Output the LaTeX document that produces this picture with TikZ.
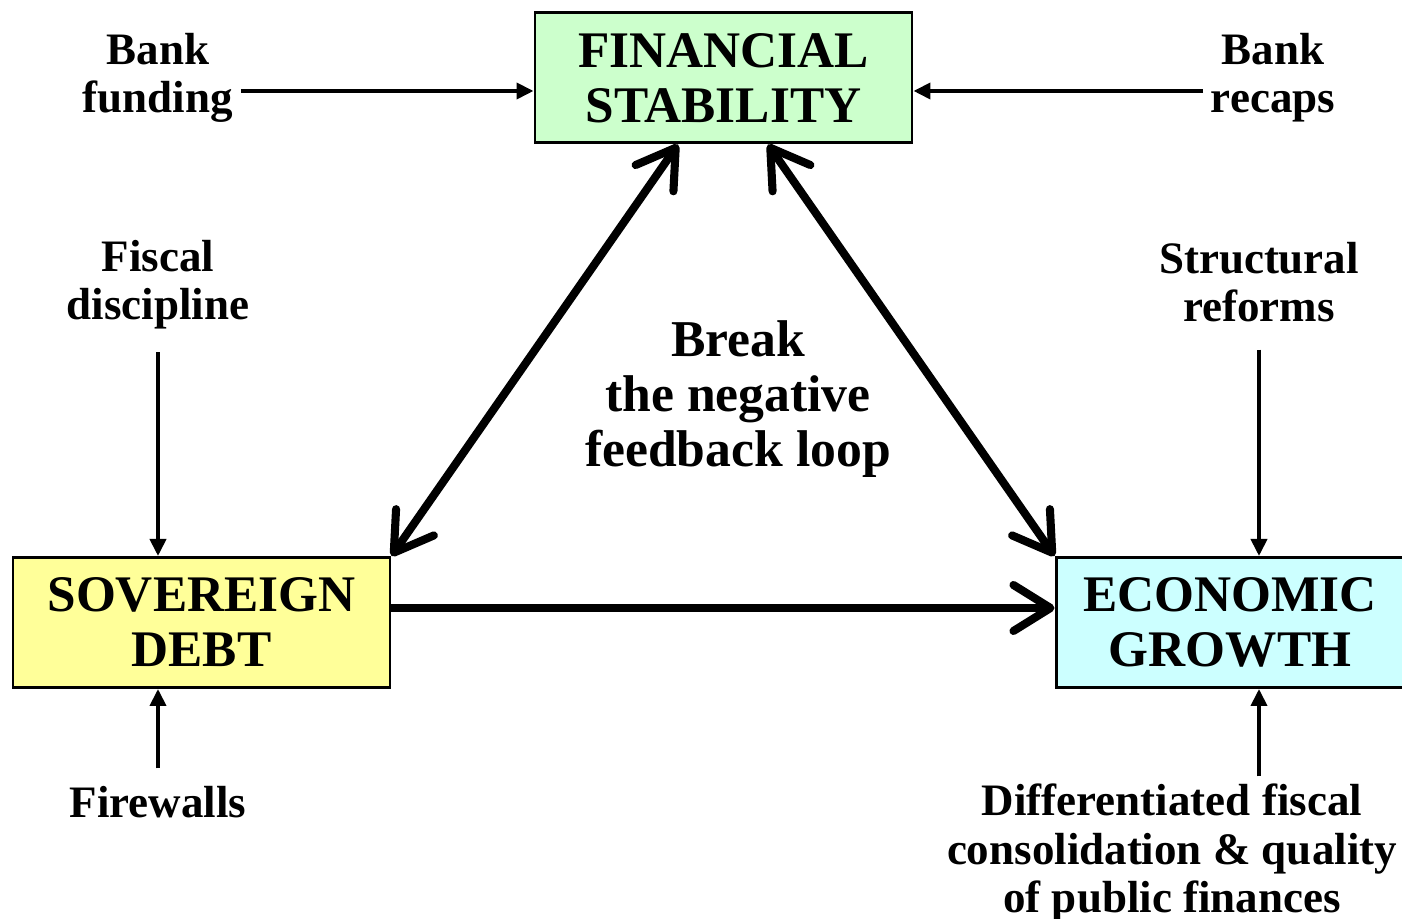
\documentclass[tikz,border=0pt]{standalone}
\usepackage{fontspec}
\setmainfont{Liberation Serif}
\usepackage{xcolor}
\usepackage{tikz}
\usetikzlibrary{arrows.meta,shapes,positioning}
\definecolor{fsgreen}{RGB}{204,255,204}
\definecolor{sdyellow}{RGB}{255,255,153}
\definecolor{egcyan}{RGB}{204,255,255}

\begin{document}
\begin{tikzpicture}[
    box/.style={rectangle, draw=black, line width=0.85pt, minimum width=3.77cm, minimum height=1.30cm, inner sep=0pt, align=center, font=\bfseries\fontsize{14.6}{15.6}\selectfont},
    txt/.style={align=center, inner sep=2pt, font=\bfseries\fontsize{12.8}{13.7}\selectfont},
    arrow/.style={-{Triangle[length=1.7mm, width=1.6mm]}, line width=1.1pt},
    bigarrow/.style={{Straight Barb[length=3.7mm, width=4.6mm, round]}-{Straight Barb[length=3.7mm, width=4.6mm, round]}, line width=2.3pt, line cap=round}
]
    \useasboundingbox (0,0) rectangle (14.02,-9.19);

    \node[box, fill=fsgreen] (fs) at (7.235,-0.78) {FINANCIAL\\STABILITY};
    \node[box, fill=sdyellow] (sd) at (2.015,-6.225) {SOVEREIGN\\DEBT};
    \node[box, fill=egcyan, minimum width=3.48cm] (eg) at (12.30,-6.225) {ECONOMIC\\GROWTH};

    \node[txt] (bankfund) at (1.58,-0.78) {Bank\\funding};
    \node[txt] (bankrecap) at (12.73,-0.78) {Bank\\recaps};
    \node[txt] (fiscal) at (1.58,-2.85) {Fiscal\\discipline};
    \node[txt] (structural) at (12.59,-2.82) {Structural\\reforms};
    \node[txt] (firewalls) at (1.58,-8.02) {Firewalls};
    \node[txt] (differ) at (11.72,-8.53) {Differentiated fiscal\\consolidation \& quality\\of public finances};
    \node[txt, font=\bfseries\fontsize{14.7}{15.6}\selectfont] (breakloop) at (7.38,-3.99) {Break\\the negative\\feedback loop};

    \coordinate (fsin) at ([yshift=-1.3mm]fs.west);
    \coordinate (fsout) at ([yshift=-1.3mm]fs.east);

    \draw[arrow] (bankfund.east |- fsin) -- (fsin);
    \draw[arrow] (bankrecap.west |- fsout) -- (fsout);
    \draw[arrow] ([yshift=-1.5mm]fiscal.south) -- (fiscal.south |- sd.north);
    \draw[arrow] ([yshift=1mm]firewalls.north) -- (firewalls.north |- sd.south);
    \draw[arrow] ([yshift=-2mm]structural.south) -- (structural.south |- eg.north);
    \draw[arrow] (structural |- differ.north) -- (structural |- eg.south);

    \draw[bigarrow] (sd.north east) -- ([xshift=-4.55mm]fs.south);
    \draw[bigarrow] ([xshift=4.45mm]fs.south) -- (eg.north west);
    \draw[-{Straight Barb[length=3.7mm, width=4.6mm, round]}, line width=2.3pt] ([yshift=1.45mm]sd.east) -- ([yshift=1.45mm]eg.west);
\end{tikzpicture}
\end{document}
